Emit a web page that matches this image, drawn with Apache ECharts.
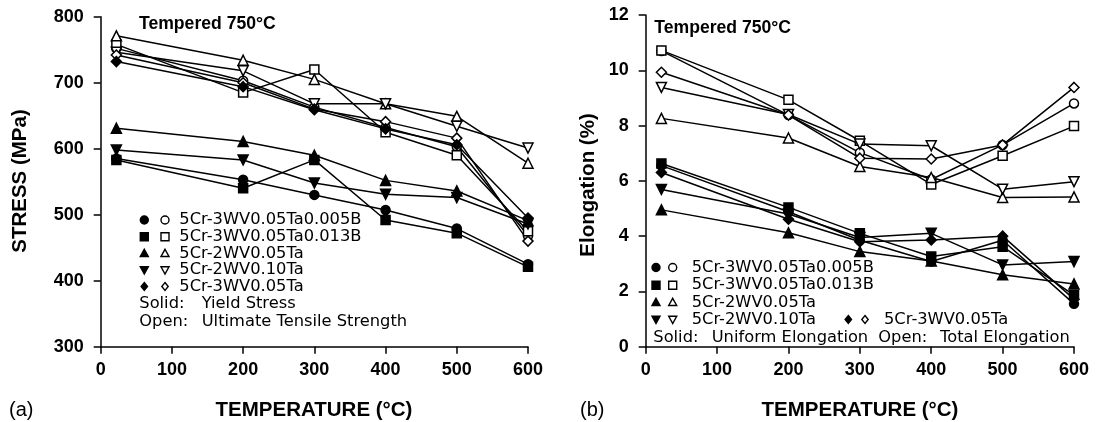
<!DOCTYPE html>
<html><head><meta charset="utf-8">
<script src="https://cdn.jsdelivr.net/npm/echarts@6/dist/echarts.min.js"></script>
<style>html,body{margin:0;padding:0;background:#fff}#c{width:1096px;height:422px}</style>
</head><body><div id="c"></div>
<script>
// ---- data ----
const temps = [22, 200, 300, 400, 500, 600];
const alloys = ['5Cr-3WV0.05Ta0.005B', '5Cr-3WV0.05Ta0.013B', '5Cr-2WV0.05Ta', '5Cr-2WV0.10Ta', '5Cr-3WV0.05Ta'];

// (a) stress, MPa
const uts_005B = [752, 703, 663, 632, 603, 468];
const uts_013B = [758, 685, 720, 625, 590, 475];
const uts_2W05 = [771, 734, 705, 668, 649, 578];
const uts_2W10 = [746, 718, 668, 668, 634, 601];
const uts_3W05 = [742, 700, 660, 641, 616, 460];
const ys_005B = [585, 553, 530, 507, 479, 425];
const ys_013B = [583, 540, 583, 492, 472, 421];
const ys_2W05 = [631, 611, 590, 552, 536, 491];
const ys_2W10 = [598, 583, 548, 531, 526, 486];
const ys_3W05 = [732, 694, 659, 630, 606, 495];

// (b) elongation, %
const te_005B = [10.70, 8.38, 7.02, 6.05, 7.30, 8.80];
const te_013B = [10.72, 8.93, 7.45, 5.87, 6.91, 7.98];
const te_2W05 = [8.26, 7.55, 6.52, 6.12, 5.40, 5.42];
const te_2W10 = [9.38, 8.40, 7.33, 7.27, 5.70, 5.97];
const te_3W05 = [9.93, 8.38, 6.82, 6.79, 7.30, 9.38];
const ue_005B = [6.55, 4.88, 3.85, 3.08, 3.85, 1.55];
const ue_013B = [6.63, 5.04, 4.10, 3.26, 3.62, 1.87];
const ue_2W05 = [4.95, 4.12, 3.44, 3.10, 2.60, 2.27];
const ue_2W10 = [5.69, 4.80, 3.95, 4.10, 2.96, 3.08];
const ue_3W05 = [6.30, 4.61, 3.80, 3.86, 4.00, 1.72];

const xTickStep = 100;
const stressTicks = {min: 300, max: 800, step: 100};
const elongTicks = {min: 0, max: 12, step: 2};

// ---- styling ----
const symbols = [
  {s: 'circle', r: 0, size: 9, g: 'circle'},
  {s: 'rect', r: 0, size: 9, g: 'rect'},
  {s: 'triangle', r: 0, size: 10, g: 'up'},
  {s: 'triangle', r: 180, size: 10, g: 'down'},
  {s: 'diamond', r: 0, size: 10, g: 'diamond'}
];

function mkSeries(name, vals, k, filled, idx) {
  const sym = symbols[k];
  return {
    type: 'line', name: name, xAxisIndex: idx, yAxisIndex: idx,
    data: temps.map((t, i) => [t, vals[i]]),
    symbol: sym.s, symbolRotate: sym.r, symbolSize: sym.size, showSymbol: true,
    lineStyle: {color: '#000', width: 1.5},
    itemStyle: {color: filled ? '#000' : '#fff', borderColor: '#000', borderWidth: 1.5, opacity: 1},
    emphasis: {disabled: true},
    z: filled ? 3 : 2,
    animation: false
  };
}

const series = [];
[uts_005B, uts_013B, uts_2W05, uts_2W10, uts_3W05].forEach((v, k) => series.push(mkSeries('UTS ' + alloys[k], v, k, false, 0)));
[ys_005B, ys_013B, ys_2W05, ys_2W10, ys_3W05].forEach((v, k) => series.push(mkSeries('YS ' + alloys[k], v, k, true, 0)));
[te_005B, te_013B, te_2W05, te_2W10, te_3W05].forEach((v, k) => series.push(mkSeries('TE ' + alloys[k], v, k, false, 1)));
[ue_005B, ue_013B, ue_2W05, ue_2W10, ue_3W05].forEach((v, k) => series.push(mkSeries('UE ' + alloys[k], v, k, true, 1)));

const axisFont = {color: '#000', fontFamily: 'Liberation Sans, Arial, sans-serif', fontWeight: 'bold', fontSize: 18};
function xAx(idx) {
  return {
    type: 'value', gridIndex: idx, min: 0, max: 600, interval: xTickStep,
    axisLine: {show: true, onZero: false, lineStyle: {color: '#000', width: 1.5}},
    axisTick: {show: true, inside: false, length: 7, lineStyle: {color: '#000', width: 1.5}},
    axisLabel: Object.assign({margin: 14, showMinLabel: true, showMaxLabel: true}, axisFont),
    splitLine: {show: false}
  };
}
function yAx(idx, t) {
  return {
    type: 'value', gridIndex: idx, min: t.min, max: t.max, interval: t.step,
    axisLine: {show: true, onZero: false, lineStyle: {color: '#000', width: 1.5}},
    axisTick: {show: true, inside: false, length: 7, lineStyle: {color: '#000', width: 1.5}},
    axisLabel: Object.assign({margin: 17, showMinLabel: true, showMaxLabel: true}, axisFont),
    splitLine: {show: false}
  };
}

// ---- graphic helpers (legend / annotations) ----
function gsym(kind, cx, cy, filled, s) {
  const h = s / 2;
  const style = {fill: filled ? '#000' : '#fff', stroke: '#000', lineWidth: 1.4};
  if (kind === 'circle') return {type: 'circle', shape: {cx: cx, cy: cy, r: h}, style: style};
  if (kind === 'rect') return {type: 'rect', shape: {x: cx - h, y: cy - h, width: s, height: s}, style: style};
  let pts;
  if (kind === 'up') pts = [[cx, cy - h], [cx + h, cy + h * 0.8], [cx - h, cy + h * 0.8]];
  else if (kind === 'down') pts = [[cx - h, cy - h * 0.8], [cx + h, cy - h * 0.8], [cx, cy + h]];
  else pts = [[cx, cy - h], [cx + h * 0.8, cy], [cx, cy + h], [cx - h * 0.8, cy]];
  return {type: 'polygon', shape: {points: pts}, style: style};
}
function gtext(str, x, y, font, align, rot) {
  return {type: 'text', x: x, y: y, rotation: rot || 0,
    style: {text: str, font: font, fill: '#000', textAlign: align || 'left', textVerticalAlign: 'middle', align: align || 'left', verticalAlign: 'middle'}};
}

const legFont = '16.3px "DejaVu Sans", sans-serif';
const tempFont = 'bold 17.6px "Liberation Sans", Arial, sans-serif';
const titleFont = 'bold 20.5px "Liberation Sans", Arial, sans-serif';
const panelFont = '20px "Liberation Sans", Arial, sans-serif';

const graphics = [];
// panel (a)
graphics.push(gtext('Tempered 750°C', 139, 24, tempFont));
const legA = [220, 236.7, 253.3, 270, 286.5];
alloys.forEach((a, k) => {
  graphics.push(gsym(symbols[k].g, 144.3, legA[k], true, 8));
  graphics.push(gsym(symbols[k].g, 165, legA[k], false, 8));
  graphics.push(gtext(a, 179.3, legA[k], legFont));
});
graphics.push(gtext('Solid:', 139.3, 303.5, legFont));
graphics.push(gtext('Yield Stress', 201.7, 303.5, legFont));
graphics.push(gtext('Open:', 139.3, 321.5, legFont));
graphics.push(gtext('Ultimate Tensile Strength', 201.7, 321.5, legFont));
graphics.push(gtext('STRESS (MPa)', 20, 181, titleFont, 'center', Math.PI / 2));
graphics.push(gtext('TEMPERATURE (°C)', 314, 410, titleFont, 'center'));
graphics.push(gtext('(a)', 9, 410, panelFont));

// panel (b)
graphics.push(gtext('Tempered 750°C', 654.3, 28, tempFont));
const legB = [267.5, 285.2, 302.3, 319.5];
const legBx = [[656, 672.7, 691.7], [656, 672.7, 691.7], [656, 672.7, 691.7], [656, 672.7, 691.7], [848.3, 865, 884]];
alloys.forEach((a, k) => {
  const yy = legB[Math.min(k, 3)];
  const p = legBx[k];
  graphics.push(gsym(symbols[k].g, p[0], yy, true, 8));
  graphics.push(gsym(symbols[k].g, p[1], yy, false, 8));
  graphics.push(gtext(a, p[2], yy, legFont));
});
graphics.push(gtext('Solid:', 653.3, 338, legFont));
graphics.push(gtext('Uniform Elongation', 711.7, 338, legFont));
graphics.push(gtext('Open:', 878.3, 338, legFont));
graphics.push(gtext('Total Elongation', 940, 338, legFont));
graphics.push(gtext('Elongation (%)', 588, 185, titleFont, 'center', Math.PI / 2));
graphics.push(gtext('TEMPERATURE (°C)', 860, 410, titleFont, 'center'));
graphics.push(gtext('(b)', 580, 410, panelFont));

const chart = echarts.init(document.getElementById('c'), null, {renderer: 'canvas'});
chart.setOption({
  backgroundColor: '#fff',
  animation: false,
  grid: [
    {left: 100.7, top: 16.7, width: 427.3, height: 330},
    {left: 645.7, top: 15, width: 428.3, height: 331.7}
  ],
  xAxis: [xAx(0), xAx(1)],
  yAxis: [yAx(0, stressTicks), yAx(1, elongTicks)],
  series: series,
  graphic: {elements: graphics}
});
</script></body></html>
